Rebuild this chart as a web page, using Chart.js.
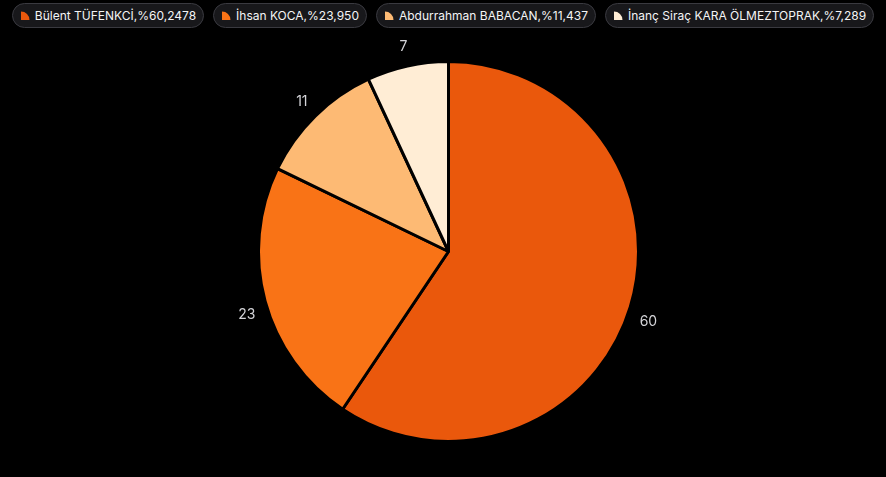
<!DOCTYPE html>
<html>
<head>
<meta charset="utf-8">
<script src="https://cdn.jsdelivr.net/npm/chart.js@4.4.0/dist/chart.umd.min.js"></script>
<style>
  html, body { margin: 0; padding: 0; background: #000; width: 886px; height: 477px; overflow: hidden; font-family: Inter, "Noto Sans", sans-serif; }
  #legend { position: absolute; top: 3px; left: 0; width: 886px; display: flex; justify-content: center; gap: 9px; }
  .pill { display: flex; align-items: center; height: 25px; padding: 0 7px 0 8px; border-radius: 13px; background: #18181b; border: 1px solid #3a3a40; box-sizing: border-box; color: #f4f4f5; font-size: 12px; white-space: nowrap; }
  .pill canvas { margin-right: 5px; }
  #wrap { position: absolute; top: 40px; left: 0; width: 886px; height: 424px; }
</style>
</head>
<body>
<div id="legend"></div>
<div id="wrap"><canvas id="grafico"></canvas></div>
<script>
// Adaylar ve oy oranlari
const adaylar = ["Bülent TÜFENKCİ", "İhsan KOCA", "Abdurrahman BABACAN", "İnanç Siraç KARA ÖLMEZTOPRAK"];
const oranlar = ["60,2478", "23,950", "11,437", "7,289"];
const degerler = [60, 23, 11, 7];
const renkler = ["#ea580c", "#f97316", "#fdba74", "#ffedd5"];

// Legend: kucuk dilim ikonu + metin
const legendDiv = document.getElementById("legend");
adaylar.forEach((ad, i) => {
    const pill = document.createElement("div");
    pill.className = "pill";
    const ikon = document.createElement("canvas");
    ikon.width = 9; ikon.height = 9;
    const c = ikon.getContext("2d");
    c.fillStyle = renkler[i];
    c.beginPath();
    c.moveTo(0, 9);
    c.lineTo(0, 0.5);
    c.arc(0, 9, 8.5, -Math.PI / 2, 0);
    c.closePath();
    c.fill();
    pill.appendChild(ikon);
    const span = document.createElement("span");
    span.textContent = `${ad},%${oranlar[i]}`;
    pill.appendChild(span);
    legendDiv.appendChild(pill);
});

// Dilimlerin disina deger yazan eklenti
const disEtiket = {
    id: "disEtiket",
    afterDatasetsDraw(chart) {
        const ctx = chart.ctx;
        const meta = chart.getDatasetMeta(0);
        ctx.save();
        ctx.fillStyle = "#d4d4d8";
        ctx.font = "14px Inter, sans-serif";
        ctx.textAlign = "center";
        ctx.textBaseline = "middle";
        meta.data.forEach((arc, i) => {
            const p = arc.getProps(["x", "y", "startAngle", "endAngle", "outerRadius"], true);
            const aci = (p.startAngle + p.endAngle) / 2;
            const r = p.outerRadius + 19;
            // alt yaridaki etiketler biraz asagida duruyor
            const dy = Math.sin(aci) > 0 ? 9 : -1;
            ctx.fillText(String(degerler[i]), p.x + Math.cos(aci) * r, p.y + Math.sin(aci) * r + dy);
        });
        ctx.restore();
    }
};

new Chart(document.getElementById("grafico").getContext("2d"), {
    type: "pie",
    data: {
        labels: adaylar,
        datasets: [{
            data: degerler,
            backgroundColor: renkler,
            borderColor: "#000",
            borderWidth: 3
        }]
    },
    options: {
        responsive: true,
        maintainAspectRatio: false,
        animation: false,
        layout: { padding: { left: 11, top: 20, bottom: 21, right: 0 } },
        plugins: {
            legend: { display: false },
            tooltip: { enabled: false }
        }
    },
    plugins: [disEtiket]
});
</script>
</body>
</html>
